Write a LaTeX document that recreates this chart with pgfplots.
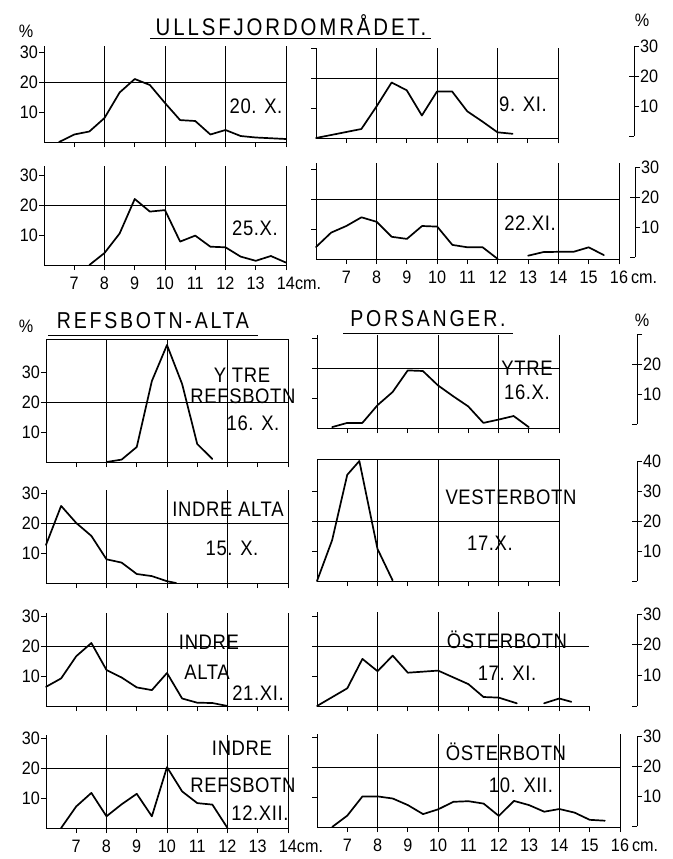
\documentclass[border=0pt]{standalone}
\usepackage{fontspec}
\setmainfont{Liberation Sans}
\newfontfamily\titlefont{Liberation Sans}[LetterSpace=12, FakeStretch=0.85]
\newfontfamily\labfont{Liberation Sans}[LetterSpace=3, FakeStretch=0.88]
\newfontfamily\tickfont{Liberation Sans}[FakeStretch=0.9]
\newcommand\tf{\tickfont\fontsize{18}{18}\selectfont}
\usepackage{pgfplots}
\pgfplotsset{compat=1.18}
\pgfplotsset{
  base/.style={scale only axis, enlargelimits=false, clip=false,
    axis line style={black, line width=0.9pt},
    every tick/.style={black, line width=0.9pt},
    tick align=outside, major tick length=5pt,
    /pgf/number format/assume math mode=true,
    xticklabel style={font=\tf, inner sep=1pt, yshift=-6pt},
    yticklabel style={font=\tf, inner sep=1pt},
  },
  panel/.style={base, axis x line*=bottom, axis y line*=left,
    xmin=6, ymin=0, xmax=14, width=242pt,
    xtick={7,...,14}, xticklabels={},
    ytick={10,20,30},
    extra x ticks={8,10,12,14}, extra x tick labels={}, extra x tick style={grid=major},
    extra y ticks={20}, extra y tick labels={}, extra y tick style={grid=major},
    grid style={black, line width=0.7pt},
    anchor=south west,
  },
  boxpanel/.style={panel, axis x line=box, axis y line=box, xtick pos=left, ytick pos=left},
  noylab/.style={yticklabels={}},
  scale/.style={base, width=1pt, xmin=0, xmax=1, ymin=0, hide x axis,
    axis y line*=right, ytick={10,20,30},
    extra y ticks={0,20}, extra y tick labels={}, extra y tick style={tick align=inside},
    anchor=south east},
  curve/.style={black, line width=1.7pt, line join=round, line cap=round},
}
\begin{document}
\begin{tikzpicture}
\path[use as bounding box] (0pt,0pt) rectangle (672pt,-859pt);

% ---------- ULLSFJORDOMRADET ----------
\begin{axis}[panel, at={(44pt,-142pt)}, ymax=32, height=96pt]
\addplot[curve] coordinates {(6.5,0)(7,2.5)(7.5,3.5)(8,8)(8.5,16.5)(9,21)(9.5,19)(10,13)(10.5,7.3)(11,7)(11.5,2.5)(12,4)(12.5,2)(13,1.5)(14,1)};
\end{axis}
\begin{axis}[panel, at={(44pt,-265pt)}, ymax=33, height=99pt,
  xticklabels={7,8,9,10,11,12,13,14\rlap{cm.}}]
\addplot[curve] coordinates {(7.5,0)(8,4)(8.5,10.5)(9,22)(9.5,17.8)(10,18.3)(10.5,7.8)(11,9.8)(11.5,6.1)(12,5.9)(12.5,2.8)(13,1.4)(13.5,3)(14,0.8)};
\end{axis}
\begin{axis}[panel, noylab, at={(316pt,-138pt)}, ymax=30, height=90pt]
\addplot[curve] coordinates {(6,0)(7.5,3)(8,10.5)(8.5,18.5)(9,15.9)(9.5,7.5)(10,15.5)(10.5,15.5)(11,8.9)(11.5,5.5)(12,1.9)(12.5,1.4)};
\end{axis}
\begin{axis}[panel, noylab, at={(316pt,-259pt)}, xmax=16, width=303pt, ymax=32, height=96pt,
  xtick={7,...,16}, extra x ticks={8,10,12,14,16},
  xticklabels={7,8,9,10,11,12,13,14,15,16\rlap{\,cm.}}]
\addplot[curve] coordinates {(6,4)(6.5,8.8)(7,11)(7.5,13.9)(8,12.4)(8.5,7.4)(9,6.7)(9.5,11)(10,10.8)(10.5,4.7)(11,3.9)(11.5,3.9)(12,0)};
\addplot[curve] coordinates {(13,1.1)(13.5,2.3)(14,2.4)(14.5,2.4)(15,3.9)(15.5,1.3)};
\end{axis}
\begin{axis}[scale, at={(634pt,-136pt)}, ymax=30, height=90pt]
\end{axis}
\begin{axis}[scale, at={(635pt,-257pt)}, ymax=30, height=90pt]
\end{axis}

% ---------- REFSBOTN-ALTA ----------
\begin{axis}[boxpanel, at={(46pt,-462pt)}, ymax=41, height=123pt]
\addplot[curve] coordinates {(8,0)(8.5,0.8)(9,5)(9.5,27)(10,39)(10.5,26)(11,6)(11.5,1)};
\end{axis}
\begin{axis}[panel, at={(46pt,-583pt)}, ymax=31, height=93pt]
\addplot[curve] coordinates {(6,12.7)(6.5,25.7)(7,20)(7.5,15.7)(8,7.9)(8.5,6.8)(9,3)(9.5,2.3)(10,0.6)(10.3,0)};
\end{axis}
\begin{axis}[panel, at={(46pt,-706pt)}, ymax=31, height=93pt]
\addplot[curve] coordinates {(6,6.4)(6.5,9.2)(7,16.6)(7.5,21)(8,12)(8.5,9.5)(9,6.2)(9.5,5.3)(10,11)(10.5,2.5)(11,1.1)(11.5,1)(12,0)};
\end{axis}
\begin{axis}[panel, at={(46pt,-828pt)}, ymax=31, height=93pt,
  xticklabels={7,8,9,10,11,12,13,14\rlap{cm.}}]
\addplot[curve] coordinates {(6.5,0)(7,7.2)(7.5,11.7)(8,3.9)(8.5,7.9)(9,11.4)(9.5,3.9)(10,20.3)(10.5,12.2)(11,8.3)(11.5,7.8)(12,0)};
\end{axis}

% ---------- PORSANGER ----------
\begin{axis}[panel, noylab, at={(317pt,-428pt)}, ymax=31, height=93pt]
\addplot[curve] coordinates {(6.5,0.3)(7,1.7)(7.5,1.7)(8,7.6)(8.5,12)(9,19.2)(9.5,19)(10,14.2)(10.5,10.6)(11,7.2)(11.5,1.7)(12,2.8)(12.5,4)(13,0.3)};
\end{axis}
\begin{axis}[boxpanel, noylab, at={(317pt,-581pt)}, ymax=40.5, height=121.5pt]
\addplot[curve] coordinates {(6,0)(6.5,13.6)(7,35.4)(7.4,40)(8,10.7)(8.5,0.2)};
\end{axis}
\begin{axis}[panel, noylab, at={(317pt,-706pt)}, xmax=15, width=272.5pt, ymax=31.5, height=94.5pt,
  xtick={7,...,15}]
\addplot[curve] coordinates {(6,0)(7,5.9)(7.5,15.7)(8,11.6)(8.5,16.8)(9,11.1)(10,11.8)(11,7.3)(11.5,3)(12,2.8)(12.6,0.9)};
\addplot[curve] coordinates {(13.5,0.9)(14,2.5)(14.4,1.4)};
\end{axis}
\begin{axis}[panel, noylab, at={(317pt,-827pt)}, xmax=16, width=303pt, ymax=31, height=93pt,
  xtick={7,...,16}, extra x ticks={8,10,12,14,16},
  xticklabels={7,8,9,10,11,12,13,14,15,16\rlap{\,cm.}}]
\addplot[curve] coordinates {(6.5,0)(7,3.8)(7.5,10.2)(8,10.2)(8.5,9.5)(9,7.3)(9.5,4.3)(10,5.9)(10.5,8.4)(11,8.6)(11.5,7.8)(12,3.7)(12.5,8.7)(13,7.3)(13.5,5.1)(14,6)(14.5,4.8)(15,2.4)(15.5,2.1)};
\end{axis}
\begin{axis}[scale, at={(637pt,-424pt)}, ymax=30, height=90pt, yticklabels={10,20,}]
\end{axis}
\begin{axis}[scale, at={(637pt,-581pt)}, ymax=40, height=120pt, ytick={10,20,30,40}]
\end{axis}
\begin{axis}[scale, at={(637pt,-706pt)}, ymax=30, height=92pt]
\end{axis}
\begin{axis}[scale, at={(637pt,-826pt)}, ymax=30, height=90pt]
\end{axis}

% ---------- texts ----------
\begin{scope}[x=1pt, y=-1pt]
\node[font=\titlefont\fontsize{24}{24}\selectfont] at (291,25) {ULLSFJORDOMRÅDET.};
\draw[line width=1pt] (150,39) -- (431,39);
\node[font=\titlefont\fontsize{23}{23}\selectfont] at (153,321) {REFSBOTN-ALTA};
\draw[line width=1pt] (48,335) -- (258,335);
\node[font=\titlefont\fontsize{23}{23}\selectfont] at (428,319) {PORSANGER.};
\draw[line width=1pt] (343,333) -- (513,333);
\node[font=\tf] at (26,31) {\%};
\node[font=\tf] at (642,20) {\%};
\node[font=\tf] at (26,326) {\%};
\node[font=\tf] at (642,320) {\%};

\begin{scope}[every node/.style={font=\labfont\fontsize{21}{21}\selectfont, inner sep=1pt}]
\node at (256,106) {20. X.};
\node at (523,104) {9. XI.};
\node at (255,228) {25.X.};
\node at (530,223) {22.XI.};
\node at (242,375) {Y TRE};
\node at (243,396) {REFSBOTN};
\node at (253,423) {16. X.};
\node at (228,509) {INDRE ALTA};
\node at (232,548) {15. X.};
\node at (209,642) {INDRE};
\node at (207,672) {ALTA};
\node at (258,693) {21.XI.};
\node at (242,748) {INDRE};
\node at (243,785) {REFSBOTN};
\node at (260,813) {12.XII.};
\node at (527,368) {YTRE};
\node at (527,392) {16.X.};
\node at (511,497) {VESTERBOTN};
\node at (490,543) {17.X.};
\node at (507,640) {ÖSTERBOTN};
\node at (507,673) {17. XI.};
\node at (506,752) {ÖSTERBOTN};
\node at (521,785) {10. XII.};
\end{scope}
\end{scope}
\end{tikzpicture}
\end{document}
